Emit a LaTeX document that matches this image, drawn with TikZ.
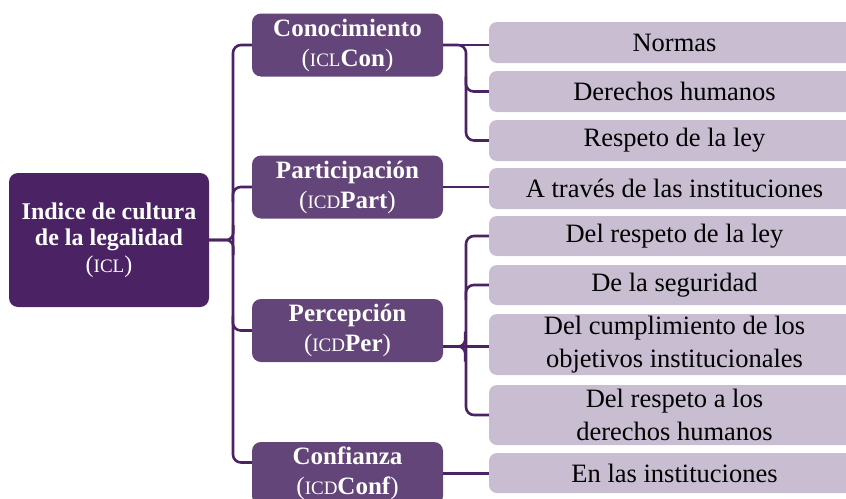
\documentclass[tikz,border=0pt]{standalone}
\usepackage{fontspec}
\setmainfont{Liberation Serif}
\definecolor{rootc}{HTML}{4B2365}
\definecolor{lonec}{HTML}{634579}
\definecolor{ltwoc}{HTML}{C9BDD1}
\definecolor{linec}{HTML}{4B2365}
\newcommand\scroot[1]{{\mdseries\fontsize{19}{19}\selectfont #1}}
\newcommand\scone[1]{{\mdseries\fontsize{19}{19}\selectfont #1}}
\newcommand\prn[1]{{\mdseries #1}}
\tikzset{
  rootbox/.style={fill=rootc, text=white, rounded corners=9pt, inner sep=0pt,
    minimum width=200pt, minimum height=134pt, align=center,
    font=\fontsize{24}{26.5}\selectfont\bfseries},
  onebox/.style={fill=lonec, text=white, rounded corners=9pt, inner sep=0pt,
    minimum width=191pt, minimum height=63pt, align=center,
    font=\fontsize{25}{30}\selectfont\bfseries},
  twobox/.style={fill=ltwoc, text=black, rounded corners=8pt, inner sep=0pt,
    minimum width=371pt, align=center,
    font=\fontsize{26.5}{33}\selectfont},
  conn/.style={draw=linec, line width=2.6pt},
}
\begin{document}
\begin{tikzpicture}[x=1pt, y=-1pt]
\useasboundingbox (0,0) rectangle (846,498);
\clip (0,0) rectangle (846,498);
% root
\node[rootbox] (root) at (109,240) {Indice de cultura\\de la legalidad\\\prn{(}\scroot{ICL}\prn{)}};
% level one
\node[onebox] (con) at (347.5,45) {Conocimiento\\\prn{(}\scone{ICL}Con\prn{)}};
\node[onebox] (part) at (347.5,187) {Participación\\\prn{(}\scone{ICD}Part\prn{)}};
\node[onebox] (per) at (347.5,330.5) {Percepción\\\prn{(}\scone{ICD}Per\prn{)}};
\node[onebox] (conf) at (347.5,473.5) {Confianza\\\prn{(}\scone{ICD}Conf\prn{)}};
% level two
\node[twobox, minimum height=41pt] (norm) at (674.5,42.5) {Normas};
\node[twobox, minimum height=41pt] (dh) at (674.5,91.5) {Derechos humanos};
\node[twobox, minimum height=41pt] (rl) at (674.5,140.5) {Respeto de la ley};
\node[twobox, minimum height=41pt] (at) at (674.5,188.5) {A través de las instituciones};
\node[twobox, minimum height=40pt] (drl) at (674.5,236) {Del respeto de la ley};
\node[twobox, minimum height=40pt] (ds) at (674.5,285) {De la seguridad};
\node[twobox, minimum height=61pt] (dc) at (674.5,344.5) {Del cumplimiento de los\\objetivos institucionales};
\node[twobox, minimum height=60pt] (drdh) at (674.5,415) {Del respeto a los\\derechos humanos};
\node[twobox, minimum height=40pt] (ei) at (674.5,473) {En las instituciones};
% coordinates
\coordinate (tk) at (233,240);
\coordinate (ck) at (466,91);
\coordinate (pk) at (466,300);
\coordinate (pe) at ([yshift=-16pt]per.east);
\coordinate (cfw) at ([yshift=11pt]conf.west);
% root connectors
\draw[conn, rounded corners=8pt] (con.west) -| (tk) |- (cfw);
\draw[conn, rounded corners=7pt] (root.east) -| ++(24,-15);
\draw[conn, rounded corners=7pt] (root.east) -| ++(24,15);
\draw[conn, rounded corners=8pt] (part.west) -| ++(-19,15);
\draw[conn, rounded corners=8pt] (per.west) -| ++(-19,-15);
% conocimiento
\draw[conn] (con.east) -- (norm.west |- con.east);
\draw[conn, rounded corners=8pt] (con.east) -| (ck) |- (rl.west);
\draw[conn, rounded corners=8pt] (dh.west) -| ++(-23,-15);
% participacion
\draw[conn] (part.east) -- (at.west |- part.east);
% percepcion
\draw[conn] (pe) -- (dc.west |- pe);
\draw[conn, rounded corners=7pt] (pe) -| ++(22,-15);
\draw[conn, rounded corners=7pt] (pe) -| ++(22,15);
\draw[conn, rounded corners=8pt] (drl.west) -| (pk) |- (drdh.west);
\draw[conn, rounded corners=8pt] (ds.west) -| ++(-23,15);
% confianza
\draw[conn] (conf.east) -- (ei.west |- conf.east);
\end{tikzpicture}
\end{document}
